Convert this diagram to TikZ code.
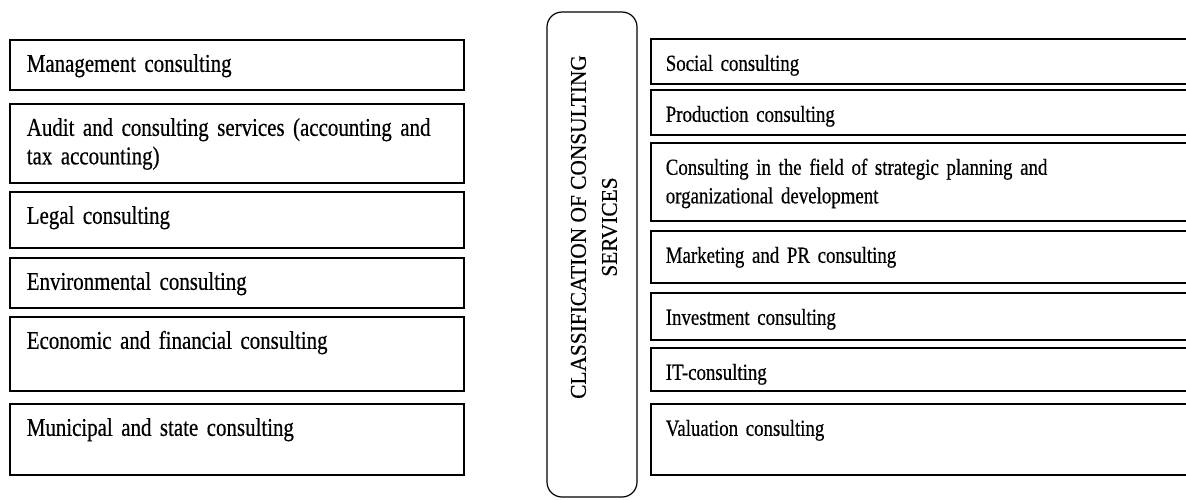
\documentclass[tikz,border=0pt]{standalone}
\usepackage{fontspec}
\setmainfont{Liberation Serif}[FakeStretch=0.82, FakeBold=0.5]
\newfontfamily\clsfont{Liberation Serif}[FakeStretch=0.95, FakeBold=0.4]
\begin{document}
\begin{tikzpicture}[x=1pt, y=-1pt,
                    cbox/.style = {draw, line width=1.6pt, anchor=north west, align=left,
                                   inner ysep=0pt, text height=32pt},
                    lbox/.style = {cbox, inner xsep=17pt, text width=420pt, text depth=#1,
                                   font=\fontsize{25.5}{28.5}\selectfont},
                    rbox/.style = {cbox, inner xsep=15pt, text width=515pt, text depth=#1,
                                   font=\fontsize{23}{28.5}\selectfont}]
                    \useasboundingbox (0,0) rectangle (1186,499);
                    \clip (0,0) rectangle (1186,499);
                    
                    \node[lbox=18pt] (manag) at (9,39)  {Management consulting};
                    \node[lbox=47pt] (audit) at (9,103) {Audit and consulting services (accounting and\\tax accounting)};
                    \node[lbox=24pt] (legal) at (9,191) {Legal consulting};
                    \node[lbox=18pt] (envir) at (9,257) {Environmental consulting};
                    \node[lbox=42pt] (econ)  at (9,316) {Economic and financial consulting};
                    \node[lbox=39pt] (munic) at (9,403) {Municipal and state consulting};
                    
                    \node[draw, line width=1.2pt, rounded corners=15pt,
                          minimum width=90pt, minimum height=485pt] (cls) at (592,254.5) {};
                    \node[rotate=90, align=center, font=\clsfont\fontsize{22.5}{31}\selectfont]
                          (clstext) at (594,227) {CLASSIFICATION OF CONSULTING\\SERVICES};
                    
                    \node[rbox=13pt] (social) at (650,38)  {Social consulting};
                    \node[rbox=13pt] (prod)   at (650,89)  {Production consulting};
                    \node[rbox=46pt] (strat)  at (650,142) {Consulting in the field of strategic planning and\\organizational development};
                    \node[rbox=20pt] (market) at (650,230) {Marketing and PR consulting};
                    \node[rbox=15pt] (invest) at (650,292) {Investment consulting};
                    \node[rbox=11pt] (itc)    at (650,347) {IT-consulting};
                    \node[rbox=39pt] (valu)   at (650,403) {Valuation consulting};
                    
                \end{tikzpicture}
\end{document}
